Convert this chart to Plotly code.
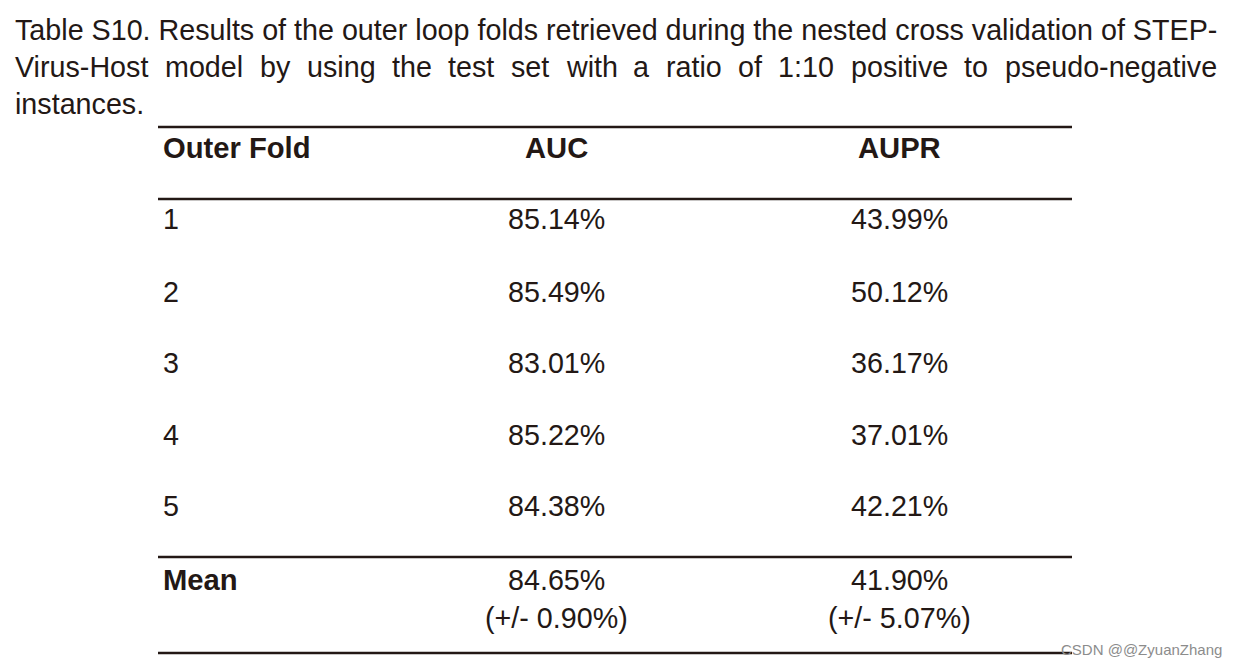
import plotly.graph_objects as go

# ---- data ----
folds = ["1", "2", "3", "4", "5"]
auc = ["85.14%", "85.49%", "83.01%", "85.22%", "84.38%"]
aupr = ["43.99%", "50.12%", "36.17%", "37.01%", "42.21%"]
headers = ["Outer Fold", "AUC", "AUPR"]
mean_label = "Mean"
mean_auc = ["84.65%", "(+/- 0.90%)"]
mean_aupr = ["41.90%", "(+/- 5.07%)"]
title_line1 = "Table S10. Results of the outer loop folds retrieved during the nested cross validation of STEP-"
title_line2_words = ["Virus-Host", "model", "by", "using", "the", "test", "set", "with", "a",
                     "ratio", "of", "1:10", "positive", "to", "pseudo-negative"]
title_line3 = "instances."
watermark = "CSDN @@ZyuanZhang"

# ---- layout constants ----
W, H = 1238, 668
INK = "#231815"
FONT = "Liberation Sans, Arial, Helvetica, sans-serif"
FS = 28.7
FSB = 29.2
x_left, x_auc, x_aupr = 163, 556, 899
line_x0, line_x1 = 158, 1072
row_y = [219, 292, 363, 435, 506]
para_x0, para_x1 = 15, 1217

# Arial advance widths (per 1000 em) used to justify the second caption line
AW = {"a": 556, "b": 556, "c": 500, "d": 556, "e": 556, "f": 278, "g": 556, "h": 556, "i": 222,
      "l": 222, "m": 833, "n": 556, "o": 556, "p": 556, "r": 333, "s": 500, "t": 278, "u": 556,
      "v": 500, "w": 722, "y": 500, "H": 722, "V": 667, "-": 333, "1": 556, "0": 556, ":": 278}

def wlen(word):
    return sum(AW.get(c, 556) for c in word) / 1000 * FS

widths = [wlen(w) for w in title_line2_words]
gap = (para_x1 - para_x0 - sum(widths)) / (len(widths) - 1)
word_x = []
cur = para_x0
for wd in widths:
    word_x.append(cur)
    cur += wd + gap

fig = go.Figure()
ann = []

def add(text, x, y, anchor="left", bold=False, size=None, color=INK):
    if size is None:
        size = FSB if bold else FS
    ann.append(dict(text=f"<b>{text}</b>" if bold else text, x=x, y=y, xref="x", yref="y",
                    xanchor=anchor, yanchor="middle", showarrow=False,
                    borderpad=0, borderwidth=0,
                    font=dict(family=FONT, size=size, color=color)))

# title
add(title_line1, para_x0, 30)
for w, xw in zip(title_line2_words, word_x):
    add(w, xw, 67)
add(title_line3, para_x0, 104)

# header
add(headers[0], x_left, 148, bold=True)
add(headers[1], x_auc, 148, anchor="center", bold=True)
add(headers[2], x_aupr, 148, anchor="center", bold=True)

# rows
for f, a, p, y in zip(folds, auc, aupr, row_y):
    add(f, x_left, y)
    add(a, x_auc, y, anchor="center")
    add(p, x_aupr, y, anchor="center")

# mean
add(mean_label, x_left, 580, bold=True)
for i, y in enumerate([580, 618]):
    add(mean_auc[i], x_auc, y, anchor="center")
    add(mean_aupr[i], x_aupr, y, anchor="center")

# watermark
ann.append(dict(text=watermark, x=1222, y=649, xref="x", yref="y", xanchor="right",
                yanchor="middle", showarrow=False, borderpad=0, borderwidth=0,
                font=dict(family=FONT, size=15, color="#8c8c8c")))

shapes = []
for y in [127, 199, 557, 653]:
    shapes.append(dict(type="line", xref="x", yref="y", x0=line_x0, x1=line_x1, y0=y, y1=y,
                       line=dict(color=INK, width=2.5), layer="below"))

fig.update_layout(
    width=W, height=H, margin=dict(l=0, r=0, t=0, b=0),
    paper_bgcolor="white", plot_bgcolor="white",
    xaxis=dict(range=[0, W], visible=False, fixedrange=True),
    yaxis=dict(range=[H, 0], visible=False, fixedrange=True),
    annotations=ann, shapes=shapes, showlegend=False,
)
fig.write_html("out.html", config={"displayModeBar": False, "staticPlot": True},
               post_script="document.body.style.margin='0px';document.body.style.overflow='hidden';")
